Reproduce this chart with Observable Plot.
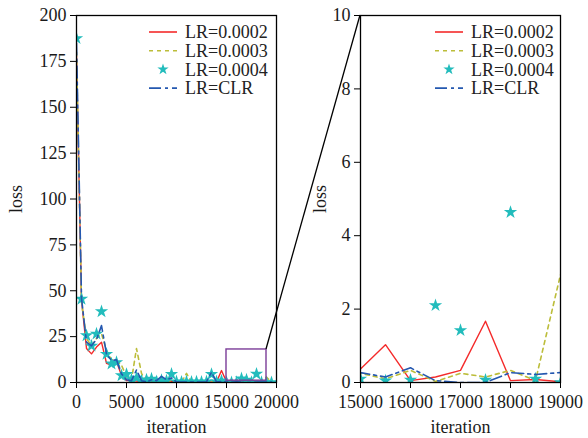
<!DOCTYPE html>
<html><head><meta charset="utf-8">
<script src="https://cdn.jsdelivr.net/npm/d3@7"></script>
<script src="https://cdn.jsdelivr.net/npm/@observablehq/plot@0.6"></script>
<style>
html,body{margin:0;padding:0;background:#fff}
#wrap{position:relative;width:588px;height:438px;font-family:'Liberation Serif','Tinos','DejaVu Serif',serif;overflow:hidden}
.panel{position:absolute;top:0}
#overlay{position:absolute;left:0;top:0;pointer-events:none}
svg text{font-family:'Liberation Serif','Tinos','DejaVu Serif',serif !important}
</style></head>
<body>
<div id="wrap"></div>
<script>
// ---- data ----
const iteration = [0,500,1000,1500,2000,2500,3000,3500,4000,4500,5000,5500,6000,6500,7000,7500,8000,8500,9000,9500,
  10000,10500,11000,11500,12000,12500,13000,13500,14000,14500,15000,15500,16000,16500,17000,17500,18000,18500,19000,19500];
const lr0002 = [178,45,18.5,15.6,19.3,22,10.5,9.5,11.5,3.8,1,1.2,0.8,0.5,0.6,0.4,1.5,0.5,0.3,0.8,
  0.3,0.4,0.2,0.3,0.2,0.3,0.2,0.3,0.2,6.5,0.37,1.03,0.05,0.15,0.33,1.67,0.05,0.08,0.02,0.05];
const lr0003 = [180,44,24,20,24,26.5,17.5,12.5,12,9.5,3,1.5,18.5,5,0.5,1,1.5,0.8,0.5,1,
  0.5,0.3,5,0.3,0.5,0.3,0.4,0.3,0.5,0.8,0.25,0.1,0.33,0.03,0.25,0.15,0.33,0.05,2.94,0.3];
const lr0004 = [187.5,45.5,25.6,20,26.5,38.7,15.5,10.2,11,3.8,4.5,1.5,2.5,0.8,1.5,2,0.5,1.2,1,4.6,
  0.5,0.3,0.5,0.3,0.4,0.3,0.5,4.5,0.5,1,0.1,0.05,0.07,2.1,1.42,0.07,4.64,0.1,0.0,0.05];
const lrCLR = [185,46,22,20,23.5,31,15.6,12,12.4,4.7,1.5,1,6.9,1,0.3,1.5,1,3.3,1.5,2.5,
  0.3,0.2,0.3,0.2,0.3,0.3,0.4,5.6,0.3,0.5,0.27,0.15,0.4,0.05,0,0,0.27,0.22,0.27,0.25];
const seriesNames = ["LR=0.0002","LR=0.0003","LR=0.0004","LR=CLR"];
const leftXTicks = [0,5000,10000,15000,20000];
const leftYTicks = [0,25,50,75,100,125,150,175,200];
const rightXTicks = [15000,16000,17000,18000,19000];
const rightYTicks = [0,2,4,6,8,10];
const zoomBox = [{x1:15000,x2:19000,y1:1,y2:18}];

const rows = iteration.map((it,i)=>({it, a:lr0002[i], b:lr0003[i], c:lr0004[i], d:lrCLR[i]}));

const colors = {a:"#f42a2a", b:"#bcbd3a", c:"#22bcbc", d:"#2458b0"};
const dashB = "4,4", dashD = "12,4,3,4";
const FONT = "'Liberation Serif','Tinos','DejaVu Serif',serif";

function panel(o){
  return Plot.plot({
    width:o.width, height:438,
    marginLeft:o.ml, marginRight:o.mr, marginTop:15, marginBottom:56,
    x:{domain:o.xd}, y:{domain:o.yd},
    style:{fontFamily:FONT, fontSize:"18px", color:"#1a1a1a", background:"transparent", overflow:"visible"},
    marks:[
      Plot.line(rows,{x:"it",y:"a",stroke:colors.a,strokeWidth:1.4,clip:true}),
      Plot.line(rows,{x:"it",y:"b",stroke:colors.b,strokeWidth:1.6,strokeDasharray:dashB,clip:true}),
      Plot.dot(rows,{x:"it",y:"c",symbol:"star",r:4.2,fill:colors.c,stroke:"none",clip:true}),
      Plot.line(rows,{x:"it",y:"d",stroke:colors.d,strokeWidth:1.6,strokeDasharray:dashD,clip:true}),
      ...(o.extra||[]),
      Plot.frame({stroke:"#000",strokeWidth:1.3}),
      Plot.axisX({ticks:o.xt, tickSize:6, tickPadding:7, tickFormat:d=>String(d), label:"iteration",
        labelAnchor:"center", labelOffset:50, labelArrow:"none", stroke:"#000"}),
      Plot.axisY({ticks:o.yt, tickSize:6, tickPadding:4, tickFormat:d=>String(d), label:"loss",
        labelAnchor:"center", labelOffset:o.lo, labelArrow:"none", stroke:"#000"})
    ]
  });
}

const left = panel({width:300, ml:76, mr:24, xd:[0,20000], yd:[0,200], xt:leftXTicks, yt:leftYTicks, lo:67,
  extra:[Plot.rect(zoomBox,{x1:"x1",x2:"x2",y1:"y1",y2:"y2",fill:"none",stroke:"#7b3c98",strokeWidth:1.4})]});
const right = panel({width:288, ml:60, mr:28, xd:[15000,19000], yd:[0,10], xt:rightXTicks, yt:rightYTicks, lo:47});

const wrap = document.getElementById("wrap");
left.classList.add("panel"); left.style.left="0px";
right.classList.add("panel"); right.style.left="300px";
wrap.appendChild(left); wrap.appendChild(right);

// overlay: connector line + legends
const svg = d3.select(wrap).append("svg").attr("id","overlay").attr("width",588).attr("height",438);
const lx = left.scale("x"), ly = left.scale("y"), rx = right.scale("x"), ry = right.scale("y");
svg.append("line")
  .attr("x1", lx.apply(zoomBox[0].x2)).attr("y1", ly.apply(zoomBox[0].y2))
  .attr("x2", 300 + rx.apply(rx.domain[0])).attr("y2", ry.apply(ry.domain[1]))
  .attr("stroke","#000").attr("stroke-width",1.3);

function legend(x0){
  const g = svg.append("g").style("font-family",FONT).attr("font-size",18).attr("fill","#222");
  const keys = ["a","b","c","d"];
  keys.forEach((k,i)=>{
    const y = 32 + i*18.7;
    if(k==="c"){
      g.append("path").attr("d", d3.symbol(d3.symbolStar, 40)()).attr("transform",`translate(${x0+14},${y})`).attr("fill",colors.c);
    } else {
      g.append("line").attr("x1",x0).attr("x2",x0+28).attr("y1",y).attr("y2",y)
        .attr("stroke",colors[k]).attr("stroke-width",1.6)
        .attr("stroke-dasharray", k==="b"?dashB:(k==="d"?dashD:null));
    }
    g.append("text").attr("x",x0+36).attr("y",y).attr("dy","0.35em").text(seriesNames[i]);
  });
}
legend(149);
legend(435);
</script>
</body></html>
